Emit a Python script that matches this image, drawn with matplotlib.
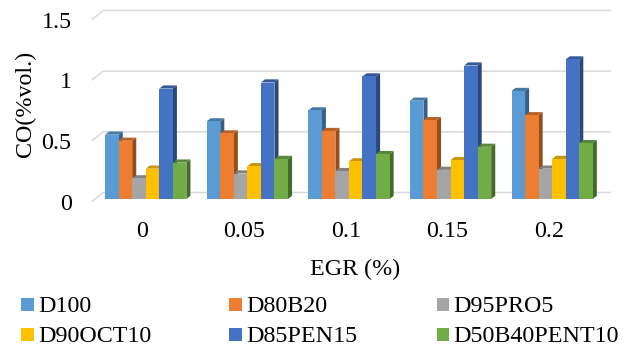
import matplotlib
matplotlib.use("Agg")
import matplotlib.pyplot as plt
from matplotlib.patches import Polygon, Rectangle
import numpy as np

categories = ["0", "0.05", "0.1", "0.15", "0.2"]
series_names = ["D100", "D80B20", "D95PRO5", "D90OCT10", "D85PEN15", "D50B40PENT10"]
D100 = [0.53, 0.64, 0.73, 0.81, 0.89]
D80B20 = [0.48, 0.54, 0.56, 0.65, 0.69]
D95PRO5 = [0.17, 0.21, 0.23, 0.24, 0.25]
D90OCT10 = [0.25, 0.27, 0.31, 0.32, 0.33]
D85PEN15 = [0.91, 0.96, 1.01, 1.10, 1.15]
D50B40PENT10 = [0.30, 0.33, 0.37, 0.43, 0.46]
series_values = [D100, D80B20, D95PRO5, D90OCT10, D85PEN15, D50B40PENT10]
yticks = [0, 0.5, 1, 1.5]
ytick_labels = ["0", "0.5", "1", "1.5"]

colors = ["#5B9BD5", "#ED7D31", "#A5A5A5", "#FFC000", "#4472C4", "#70AD47"]

plt.rcParams['font.family'] = ['Liberation Serif', 'DejaVu Serif']
FS = 17.3

W, H = 633, 347
fig = plt.figure(figsize=(W / 100, H / 100), dpi=100)

# front plane of the 3D box in pixels
x_left, x_right = 91.7, 599.7
y_bot, y_top = 201.5, 19.5
ax = fig.add_axes([x_left / W, (H - y_bot) / H, (x_right - x_left) / W, (y_bot - y_top) / H])
ax.set_xlim(0, len(categories))
ax.set_ylim(0, 1.5)
ax.set_frame_on(False)

px_x = (x_right - x_left) / len(categories)
px_y = (y_bot - y_top) / 1.5
ddx = 11.6 / px_x
ddy = 9.0 / px_y

grid_c = "#d9d9d9"
for v in yticks:
    ax.plot([0, ddx, len(categories) + ddx], [v, v + ddy, v + ddy],
            color=grid_c, lw=1.1, clip_on=False, zorder=1, solid_capstyle='butt')


def shade(c, f):
    c = np.array(matplotlib.colors.to_rgb(c))
    return tuple(c * f)


n = len(series_names)
group_w = 0.8
w = group_w / n
front_depth = 0.28
bar_depth = 0.35
bdx, bdy = bar_depth * ddx, bar_depth * ddy
k = 0
for i in range(len(categories)):
    for j in range(n):
        v = series_values[j][i]
        x0 = i + (1 - group_w) / 2 + j * w + front_depth * ddx
        y0 = front_depth * ddy
        z = 2 + k * 0.01
        side = Polygon([(x0 + w, y0), (x0 + w + bdx, y0 + bdy), (x0 + w + bdx, y0 + v + bdy), (x0 + w, y0 + v)],
                       closed=True, facecolor=shade(colors[j], 0.62), edgecolor='none', zorder=z, clip_on=False)
        top = Polygon([(x0, y0 + v), (x0 + bdx, y0 + v + bdy), (x0 + w + bdx, y0 + v + bdy), (x0 + w, y0 + v)],
                      closed=True, facecolor=shade(colors[j], 0.78), edgecolor='none', zorder=z, clip_on=False)
        ax.add_patch(side)
        ax.add_patch(top)
        ax.bar(x0, v, width=w, bottom=y0, align='edge', color=colors[j], zorder=z + 0.005,
               clip_on=False, linewidth=0)
        k += 1

ax.set_xticks(np.arange(len(categories)) + 0.5)
ax.set_xticklabels(categories, fontsize=FS)
ax.set_yticks(yticks)
ax.set_yticklabels(ytick_labels, fontsize=FS)
ax.tick_params(axis='x', length=0, pad=14)
ax.tick_params(axis='y', length=0, pad=14.5)

fig.text(355 / W, 1 - 269 / H, "EGR (%)", fontsize=FS, ha='center', va='center')
fig.text(25 / W, 1 - 103.5 / H, "CO(%vol.)", fontsize=FS, ha='center', va='center', rotation=90)

# legend (row-major, 3 columns)
col_x = [21, 229, 436.7]
row_y = [304.5, 334.5]
sq = 12.5
for idx, name in enumerate(series_names):
    r, c = divmod(idx, 3)
    xs, yc = col_x[c], row_y[r]
    fig.patches.append(Rectangle((xs / W, 1 - (yc + sq / 2) / H), sq / W, sq / H,
                                 transform=fig.transFigure, facecolor=colors[idx], edgecolor='none'))
    fig.text((xs + 17) / W, 1 - yc / H, name, fontsize=FS, ha='left', va='center_baseline')

fig.savefig("out.png", dpi=100)
